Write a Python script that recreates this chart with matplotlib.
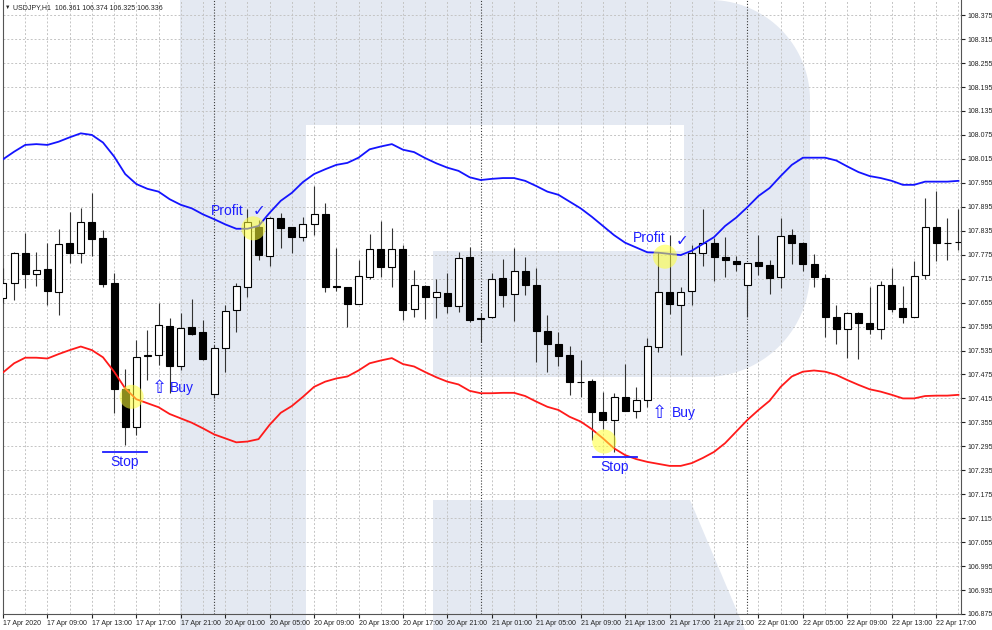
import numpy as np
import matplotlib
matplotlib.use('Agg')
import matplotlib.pyplot as plt
from matplotlib.patches import Rectangle, Polygon

plt.rcParams['font.family'] = ['Liberation Sans', 'DejaVu Sans']

# USDJPY H1, 17 Apr 2020 05:00 .. 22 Apr 2020 19:00
opens = [107.666, 107.703, 107.779, 107.727, 107.739, 107.682, 107.804, 107.779, 107.858, 107.816,
         107.703, 107.438, 107.343, 107.522, 107.524, 107.597, 107.496, 107.593, 107.581, 107.425,
         107.542, 107.636, 107.695, 107.845, 107.773, 107.868, 107.844, 107.819, 107.851, 107.876,
         107.697, 107.693, 107.652, 107.720, 107.789, 107.744, 107.789, 107.638, 107.697, 107.668,
         107.680, 107.647, 107.768, 107.616, 107.618, 107.716, 107.676, 107.735, 107.699, 107.585,
         107.551, 107.524, 107.457, 107.459, 107.382, 107.361, 107.419, 107.384, 107.411, 107.545,
         107.682, 107.649, 107.684, 107.779, 107.804, 107.768, 107.760, 107.699, 107.756, 107.748,
         107.718, 107.824, 107.805, 107.752, 107.717, 107.620, 107.588, 107.628, 107.603, 107.588,
         107.699, 107.641, 107.620, 107.724, 107.845, 107.805, 107.807]
highs = [107.741, 107.782, 107.829, 107.783, 107.804, 107.839, 107.881, 107.891, 107.930, 107.837,
         107.730, 107.488, 107.561, 107.586, 107.655, 107.616, 107.630, 107.663, 107.612, 107.549,
         107.649, 107.703, 107.889, 107.862, 107.870, 107.880, 107.845, 107.869, 107.947, 107.904,
         107.793, 107.694, 107.762, 107.827, 107.860, 107.841, 107.799, 107.737, 107.698, 107.713,
         107.730, 107.783, 107.795, 107.629, 107.728, 107.764, 107.793, 107.770, 107.741, 107.624,
         107.582, 107.546, 107.510, 107.463, 107.432, 107.429, 107.501, 107.444, 107.566, 107.781,
         107.824, 107.695, 107.799, 107.889, 107.816, 107.820, 107.772, 107.754, 107.824, 107.762,
         107.868, 107.839, 107.806, 107.777, 107.726, 107.649, 107.632, 107.632, 107.695, 107.710,
         107.741, 107.697, 107.758, 107.916, 107.935, 107.868, 107.890]
lows = [107.653, 107.662, 107.691, 107.697, 107.649, 107.624, 107.755, 107.755, 107.772, 107.695,
        107.378, 107.298, 107.323, 107.461, 107.499, 107.428, 107.486, 107.575, 107.511, 107.416,
        107.482, 107.582, 107.670, 107.762, 107.747, 107.791, 107.779, 107.810, 107.824, 107.682,
        107.685, 107.595, 107.651, 107.713, 107.718, 107.693, 107.612, 107.620, 107.613, 107.616,
        107.630, 107.632, 107.607, 107.557, 107.617, 107.645, 107.610, 107.674, 107.505, 107.480,
        107.496, 107.424, 107.419, 107.311, 107.338, 107.282, 107.383, 107.365, 107.394, 107.532,
        107.627, 107.524, 107.649, 107.747, 107.710, 107.720, 107.735, 107.620, 107.724, 107.677,
        107.691, 107.751, 107.733, 107.695, 107.568, 107.551, 107.516, 107.513, 107.576, 107.564,
        107.632, 107.603, 107.619, 107.713, 107.758, 107.762, 107.787]
closes = [107.703, 107.779, 107.727, 107.737, 107.684, 107.801, 107.779, 107.856, 107.814, 107.701,
          107.438, 107.344, 107.520, 107.523, 107.599, 107.496, 107.591, 107.576, 107.513, 107.542,
          107.635, 107.697, 107.858, 107.774, 107.868, 107.841, 107.820, 107.851, 107.876, 107.695,
          107.693, 107.652, 107.722, 107.789, 107.745, 107.789, 107.637, 107.699, 107.668, 107.681,
          107.647, 107.766, 107.612, 107.614, 107.713, 107.674, 107.734, 107.699, 107.585, 107.551,
          107.522, 107.457, 107.456, 107.380, 107.361, 107.419, 107.384, 107.411, 107.546, 107.682,
          107.652, 107.682, 107.779, 107.804, 107.768, 107.762, 107.751, 107.753, 107.747, 107.716,
          107.822, 107.805, 107.752, 107.720, 107.620, 107.588, 107.628, 107.603, 107.589, 107.699,
          107.639, 107.620, 107.722, 107.845, 107.805, 107.804, 107.808]

upper_band = [108.014, 108.033, 108.050, 108.052, 108.050, 108.058, 108.069, 108.079, 108.075, 108.056,
              108.021, 107.977, 107.952, 107.940, 107.933, 107.914, 107.900, 107.891, 107.876, 107.864,
              107.851, 107.840, 107.840, 107.847, 107.880, 107.910, 107.930, 107.957, 107.977, 107.989,
              108.000, 108.005, 108.018, 108.039, 108.046, 108.052, 108.038, 108.032, 108.017, 108.004,
              107.993, 107.985, 107.969, 107.962, 107.965, 107.967, 107.967, 107.960, 107.947, 107.933,
              107.925, 107.908, 107.891, 107.870, 107.847, 107.824, 107.805, 107.793, 107.781, 107.780,
              107.777, 107.774, 107.785, 107.802, 107.819, 107.847, 107.868, 107.894, 107.922, 107.942,
              107.972, 108.000, 108.018, 108.018, 108.018, 108.011, 107.996, 107.982, 107.972, 107.967,
              107.960, 107.950, 107.950, 107.958, 107.958, 107.958, 107.960]
lower_band = [107.480, 107.503, 107.517, 107.517, 107.515, 107.526, 107.536, 107.545, 107.536, 107.518,
              107.482, 107.440, 107.413, 107.403, 107.393, 107.376, 107.365, 107.354, 107.340, 107.325,
              107.315, 107.305, 107.307, 107.313, 107.349, 107.379, 107.396, 107.419, 107.444, 107.457,
              107.465, 107.470, 107.485, 107.503, 107.510, 107.516, 107.501, 107.495, 107.481, 107.468,
              107.457, 107.450, 107.434, 107.428, 107.428, 107.429, 107.429, 107.421, 107.407, 107.394,
              107.386, 107.369, 107.357, 107.338, 107.315, 107.290, 107.273, 107.263, 107.256, 107.251,
              107.246, 107.246, 107.253, 107.266, 107.281, 107.303, 107.332, 107.361, 107.386, 107.409,
              107.444, 107.470, 107.482, 107.485, 107.482, 107.474, 107.461, 107.449, 107.438, 107.432,
              107.424, 107.415, 107.415, 107.421, 107.422, 107.422, 107.424]

time_labels = ['17 Apr 2020', '17 Apr 09:00', '17 Apr 13:00', '17 Apr 17:00', '17 Apr 21:00',
               '20 Apr 01:00', '20 Apr 05:00', '20 Apr 09:00', '20 Apr 13:00', '20 Apr 17:00',
               '20 Apr 21:00', '21 Apr 01:00', '21 Apr 05:00', '21 Apr 09:00', '21 Apr 13:00',
               '21 Apr 17:00', '21 Apr 21:00', '22 Apr 01:00', '22 Apr 05:00', '22 Apr 09:00',
               '22 Apr 13:00', '22 Apr 17:00']
day_starts = [19, 43, 67]
price_ticks = [round(106.875 + 0.06 * k, 3) for k in range(26)]

W, H = 992, 630
fig = plt.figure(figsize=(W / 100, H / 100), dpi=100)
fig.patch.set_facecolor('white')

# --- watermark "R" in the background (figure pixels) ---
bg = fig.add_axes([0, 0, 1, 1], zorder=0)
bg.set_xlim(0, W)
bg.set_ylim(H, 0)
bg.axis('off')
wm = '#e4e9f2'


def arc(cx, cy, r, a0, a1, n=40):
    t = np.radians(np.linspace(a0, a1, n))
    return np.column_stack([cx + r * np.cos(t), cy + r * np.sin(t)])


bowl = np.vstack([[(306, 0)], arc(710, 100, 100, -90, 0), arc(705, 272, 105, 0, 90),
                  [(433, 377), (433, 251), (684, 251), (684, 125), (306, 125)]])
bg.add_patch(Rectangle((180, 0), 126, H, color=wm, lw=0))
bg.add_patch(Polygon(bowl, closed=True, color=wm, lw=0))
bg.add_patch(Polygon([(433, 500), (690, 500), (745, H), (433, H)], closed=True, color=wm, lw=0))

# --- chart ---
ax = fig.add_axes([2.5 / W, 16 / H, (961 - 2.5) / W, 614 / H], zorder=1)
ax.patch.set_alpha(0)
n = len(opens)
idx = np.arange(n)

ax.set_xlim(-0.045, 86.23)
ax.set_ylim(106.875, 108.413)

ax.set_axisbelow(True)
ax.set_yticks(price_ticks)
ax.set_yticklabels([f'{v:.3f}' for v in price_ticks])
ax.yaxis.tick_right()
ax.tick_params(axis='y', labelsize=5, length=3, pad=1.5, colors='#222222')

ax.set_xticks(idx[::4])
ax.set_xticklabels(time_labels, ha='left', fontsize=5)
ax.set_xticks(idx[::2], minor=True)
ax.tick_params(axis='x', which='major', length=3, pad=1.5, colors='#222222')
ax.tick_params(axis='x', which='minor', length=0)

grid_kw = dict(color='#c4c4c4', linestyle=(0, (2, 2)), linewidth=0.7)
ax.grid(axis='y', **grid_kw)
ax.grid(axis='x', which='both', **grid_kw)

for b in day_starts:
    ax.axvline(b, color='#3a3a3a', lw=0.8, ls=(0, (1, 1.6)), zorder=1)

for s in ['left', 'bottom', 'right']:
    ax.spines[s].set_color('#555555')
    ax.spines[s].set_linewidth(0.8)
ax.spines['top'].set_visible(False)

# candles
bw = 0.63
for i in range(n):
    o, h, l, c = opens[i], highs[i], lows[i], closes[i]
    ax.vlines(i, l, h, color='#333333', lw=0.8, zorder=3)
    face = 'white' if c >= o else 'black'
    ax.add_patch(Rectangle((i - bw / 2, min(o, c)), bw, abs(c - o), facecolor=face,
                           edgecolor='black', lw=0.8, zorder=4))

ax.plot(idx, upper_band, color='#1414ff', lw=1.3, zorder=5)
ax.plot(idx, lower_band, color='#ff1a1a', lw=1.3, zorder=5)

# annotations
blue = '#1e1eff'
ax.scatter([11.58, 22.53, 54.12, 59.59], [107.419, 107.841, 107.307, 107.770], s=300,
           color='#ffff33', alpha=0.55, edgecolors='none', zorder=6)

ax.plot([9.0, 12.96], [107.282, 107.282], color=blue, lw=1.3, zorder=6)
ax.text(10.98, 107.256, 'Stop', color=blue, fontsize=10, ha='center', va='center', zorder=7)
ax.plot([53.1, 57.07], [107.268, 107.268], color=blue, lw=1.3, zorder=6)
ax.text(55.09, 107.243, 'Stop', color=blue, fontsize=10, ha='center', va='center', zorder=7)

for ax_x, tx_x, yy in [(14.04, 15.0, 107.441), (59.05, 60.2, 107.379)]:
    ax.text(ax_x, yy, '\u21e7', color=blue, fontsize=13, ha='center', va='center',
            family='DejaVu Sans', zorder=7)
    ax.text(tx_x, yy, 'Buy', color=blue, fontsize=10, ha='left', va='center', zorder=7)

ax.text(18.72, 107.885, 'Profit', color=blue, fontsize=10, ha='left', va='center', zorder=7)
ax.text(23.04, 107.884, '\u2713', color=blue, fontsize=11, ha='center', va='center', zorder=7)
ax.text(56.7, 107.818, 'Profit', color=blue, fontsize=10, ha='left', va='center', zorder=7)
ax.text(61.1, 107.810, '\u2713', color=blue, fontsize=11, ha='center', va='center', zorder=7)

# header
fig.text(5 / W, 1 - 7.5 / H, '\u25bc', fontsize=4, va='center', color='#222222')
fig.text(13 / W, 1 - 7.5 / H, 'USDJPY,H1  106.361 106.374 106.325 106.336', fontsize=5,
         va='center', color='#222222')

fig.savefig('out.png', dpi=100)
